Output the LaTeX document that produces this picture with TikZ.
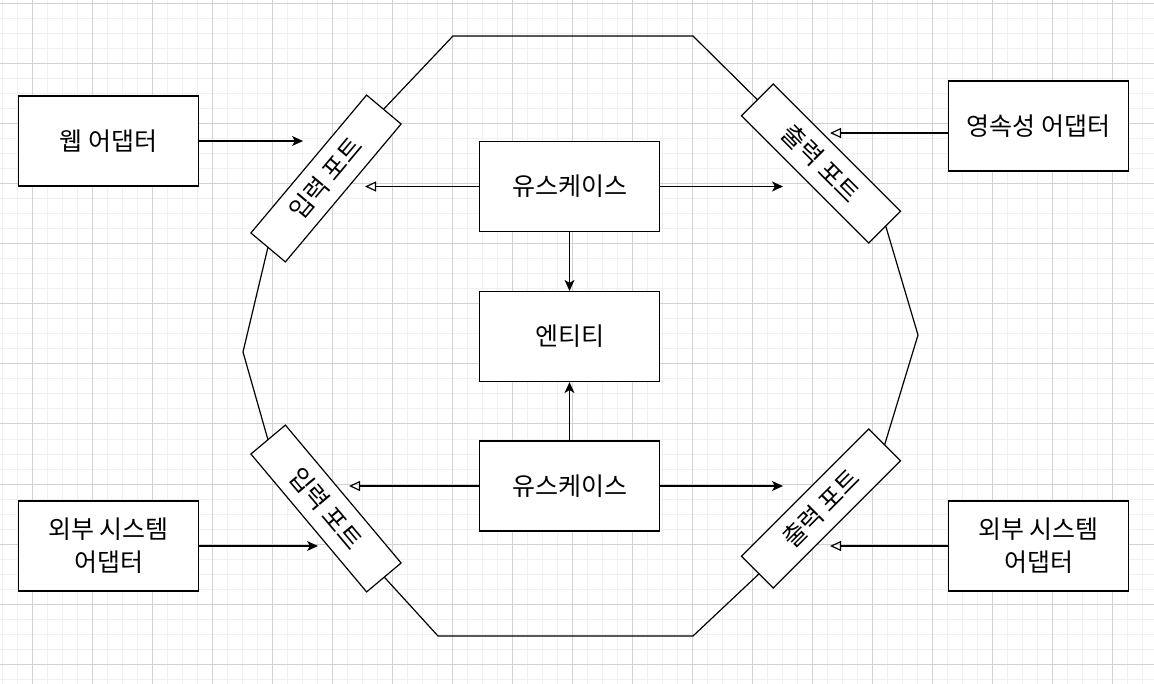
\documentclass[tikz,border=0pt]{standalone}
\usepackage{fontspec}
\setmainfont{Noto Sans CJK KR}
\usetikzlibrary{arrows.meta}
\definecolor{minorc}{HTML}{F0F0F0}
\definecolor{majorc}{HTML}{D2D2D2}
\newcommand{\dfont}{\fontsize{25}{33}\selectfont}
\begin{document}
\begin{tikzpicture}[x=1pt,y=-1pt,
  box/.style={draw, fill=white, line width=1.2pt, minimum width=180pt, minimum height=90pt, inner sep=0pt, align=center, font=\dfont},
  port/.style={draw, fill=white, line width=1.2pt, minimum width=180pt, minimum height=45pt, inner sep=0pt, font=\dfont},
  farr/.style={-{Stealth[length=11pt,width=10pt,inset=3pt]}, line width=1.2pt},
  oarr/.style={-{Triangle[open,length=11pt,width=10pt]}, line width=1.2pt},
  minorl/.style={draw=minorc, line width=1pt},
  majorl/.style={draw=majorc, line width=1pt}]
\useasboundingbox[fill=white] (0,0) rectangle (1154,684);
% grid
\foreach \x in {2,17,...,1154} \draw[minorl] (\x,0) -- (\x,684);
\foreach \y in {4,19,...,684} \draw[minorl] (0,\y) -- (1154,\y);
\foreach \x in {32,92,...,1154} \draw[majorl] (\x,0) -- (\x,684);
\foreach \y in {4,64,...,684} \draw[majorl] (0,\y) -- (1154,\y);
% hexagonal boundary
\draw[line width=1.2pt] (453,36) -- (693,36) -- (886,227) -- (918,335) -- (880,460) -- (693,636) -- (438,636) -- (272,454) -- (243,352) -- (273,226) -- cycle;
% ports
\node[port, rotate=50]  (pin1)  at (326,178.5) {입력 포트};
\node[port, rotate=-45] (pout1) at (821,163.5) {출력 포트};
\node[port, rotate=-50] (pin2)  at (326,508.5) {입력 포트};
\node[port, rotate=45]  (pout2) at (821,508.5) {출력 포트};
% boxes
\node[box] (web)     at (108.5,141)   {웹 어댑터};
\node[box] (persist) at (1038.5,126)  {영속성 어댑터};
\node[box] (uc1)     at (569.5,186.5) {유스케이스};
\node[box] (ent)     at (569.5,336.5) {엔티티};
\node[box] (uc2)     at (569.5,486)   {유스케이스};
\node[box] (ext1)    at (108.5,546)   {외부 시스템\\어댑터};
\node[box] (ext2)    at (1038.5,546)  {외부 시스템\\어댑터};
% free arrow ends
\coordinate (c1) at (303,141);
\coordinate (c2) at (830,133);
\coordinate (c3) at (365,186.5);
\coordinate (c4) at (783,186.5);
\coordinate (c5) at (349,486);
\coordinate (c6) at (783,486);
\coordinate (c7) at (318,546);
\coordinate (c8) at (830,546);
% connectors
\draw[farr] (web.east) -- (c1);
\draw[oarr] (persist.west |- c2) -- (c2);
\draw[oarr] (uc1.west) -- (c3);
\draw[farr] (uc1.east) -- (c4);
\draw[farr] (uc1.south) -- (ent.north);
\draw[farr] (uc2.north) -- (ent.south);
\draw[oarr] (uc2.west) -- (c5);
\draw[farr] (uc2.east) -- (c6);
\draw[farr] (ext1.east) -- (c7);
\draw[oarr] (ext2.west) -- (c8);
\end{tikzpicture}
\end{document}
